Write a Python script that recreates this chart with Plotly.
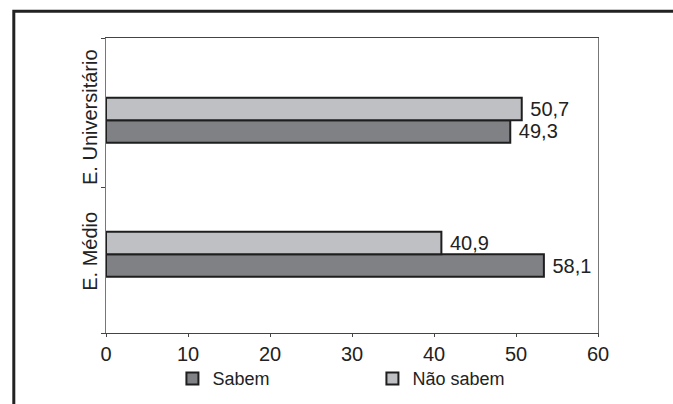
import plotly.graph_objects as go

# ---- data ----
categories = ["E. Médio", "E. Universitário"]
cat_pos = [0, 1]
sabem_bar = [53.4, 49.3]          # bar lengths as drawn in the picture
sabem_labels = ["58,1", "49,3"]
nao_sabem = [40.9, 50.7]
nao_sabem_labels = ["40,9", "50,7"]
x_ticks = [0, 10, 20, 30, 40, 50, 60]

FONT = "Liberation Sans, Arial, sans-serif"
NB = "\u00a0"

fig = go.Figure()
fig.add_trace(go.Bar(
    name="Sabem", orientation="h", y=cat_pos, x=sabem_bar,
    text=[NB + t for t in sabem_labels], textposition="outside",
    textfont=dict(size=20, color="#222", family=FONT),
    marker=dict(color="#808184", line=dict(color="#1e1e1e", width=2)),
    cliponaxis=False,
))
fig.add_trace(go.Bar(
    name="Não sabem", orientation="h", y=cat_pos, x=nao_sabem,
    text=[NB + t for t in nao_sabem_labels], textposition="outside",
    textfont=dict(size=20, color="#222", family=FONT),
    marker=dict(color="#bfc0c4", line=dict(color="#1e1e1e", width=2)),
    cliponaxis=False,
))

fig.update_layout(
    width=673, height=404,
    margin=dict(l=106, r=75, t=38, b=71, autoexpand=False),
    paper_bgcolor="white", plot_bgcolor="white",
    barmode="group", bargap=0.664, bargroupgap=0,
    font=dict(family=FONT, size=20, color="#222"),
    showlegend=True,
    legend=dict(orientation="h", x=0.135, xanchor="left", y=-0.155, yanchor="middle",
                font=dict(size=18, color="#222", family=FONT),
                entrywidth=155, bgcolor="rgba(0,0,0,0)"),
    xaxis=dict(range=[0, 60], tickvals=x_ticks, ticks="outside", ticklen=3,
               tickcolor="#444", showline=True, linecolor="#444", linewidth=1,
               mirror=True, showgrid=False, zeroline=False, automargin=False,
               tickfont=dict(size=20, family=FONT, color="#222")),
    yaxis=dict(range=[-0.587, 1.613], tickvals=cat_pos, ticktext=categories,
               tickangle=-90, ticks="", showline=True, linecolor="#777",
               linewidth=1, mirror=True, showgrid=False, zeroline=False,
               automargin=False,
               tickfont=dict(size=20, family=FONT, color="#222"),
               minor=dict(tickmode="array", tickvals=[-0.587, 0.5, 1.613],
                          ticks="outside", ticklen=4, tickcolor="#444")),
)

# outer frame (left and top edges only, as in the reference)
fig.add_shape(type="path", xref="paper", yref="paper",
              path="M -0.1874,-0.30 L -0.1874,1.0908 L 1.20,1.0908",
              line=dict(color="#222", width=3))

fig.write_html("out.html", config={"displayModeBar": False},
               post_script="document.body.style.margin='0';")
